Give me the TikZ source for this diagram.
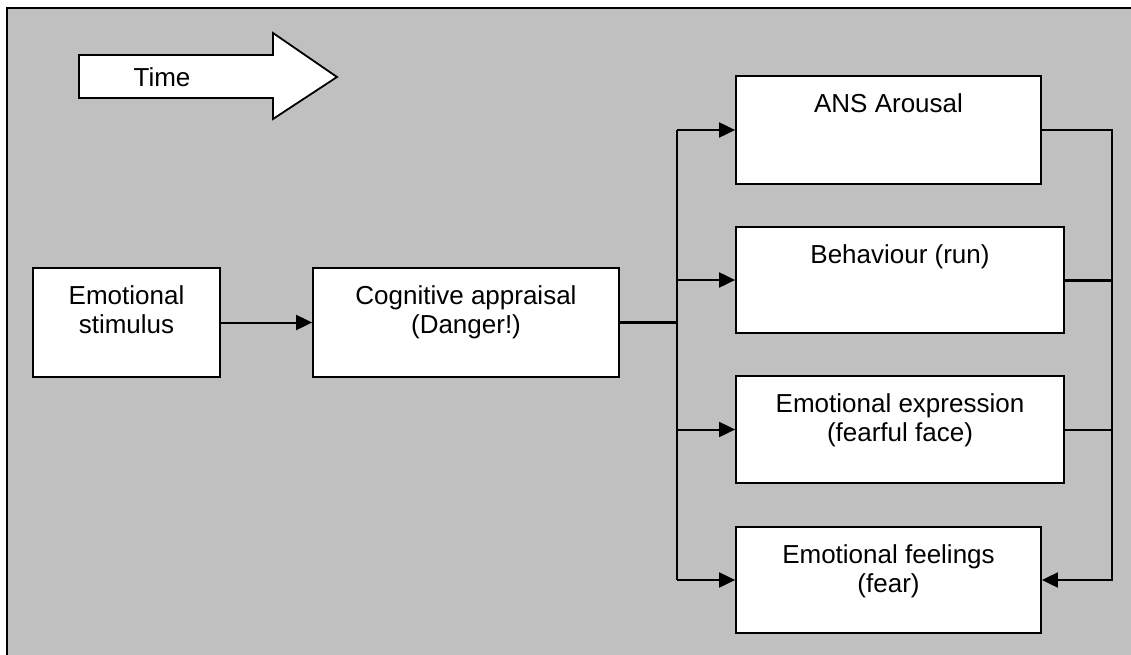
\documentclass[tikz,border=0pt]{standalone}
\usepackage{fontspec}
\setmainfont{Liberation Sans}
\usetikzlibrary{arrows.meta}
\definecolor{panel}{HTML}{C0C0C0}
\begin{document}
\begin{tikzpicture}[x=1pt,y=-1pt,
  font=\fontsize{26}{29.5}\selectfont,
  box/.style={draw, fill=white, line width=1.8pt, inner sep=0pt},
  txt/.style={align=center, inner sep=0pt, anchor=north},
  link/.style={line width=2pt},
  heavy/.style={line width=3pt},
  arr/.style={line width=2pt, -{Triangle[length=16pt,width=15pt]}}]
\useasboundingbox (0,0) rectangle (1131,655);
\fill[white] (0,0) rectangle (1131,655);
% grey panel
\draw[line width=2.2pt, fill=panel] (7,8) rectangle (1150,680);

% time arrow
\draw[fill=white, line width=1.8pt] (79,55) -- (273,55) -- (273,33) -- (337,77)
  -- (273,119) -- (273,98) -- (79,98) -- cycle;
\node[inner sep=0pt] (time) at (162,77) {Time};

% boxes
\node[box, minimum width=187pt, minimum height=109pt] (stim) at (126.5,322.5) {};
\node[box, minimum width=306pt, minimum height=109pt] (cog)  at (466,322.5) {};
\node[box, minimum width=305pt, minimum height=108pt] (ans)  at (888.5,130) {};
\node[box, minimum width=328pt, minimum height=106pt] (beh)  at (900,280) {};
\node[box, minimum width=328pt, minimum height=107pt] (expr) at (900,429.5) {};
\node[box, minimum width=305pt, minimum height=106pt] (feel) at (888.5,580) {};

% box texts
\node[txt] (stimT) at ([yshift=-18pt]stim.north) {Emotional\\stimulus};
\node[txt] (cogT)  at ([yshift=-18pt]cog.north)  {Cognitive appraisal\\(Danger!)};
\node[txt] (ansT)  at ([yshift=-18pt]ans.north)  {ANS Arousal};
\node[txt] (behT)  at ([yshift=-18pt]beh.north)  {Behaviour (run)};
\node[txt] (exprT) at ([yshift=-18pt]expr.north) {Emotional expression\\(fearful face)};
\node[txt] (feelT) at ([yshift=-18pt]feel.north) {Emotional feelings\\(fear)};

% bus positions
\coordinate (lbus) at (677,0);
\coordinate (rbus) at (1112,0);

% connectors
\draw[arr] (stim.east) -- (cog.west);
\draw[heavy] (cog.east) -- (cog.east -| lbus);
\draw[link] (lbus |- ans.west) -- (lbus |- feel.west);
\draw[arr] (lbus |- ans.west) -- (ans.west);
\draw[arr] (lbus |- beh.west) -- (beh.west);
\draw[arr] (lbus |- expr.west) -- (expr.west);
\draw[arr] (lbus |- feel.west) -- (feel.west);

\draw[arr] (ans.east) -- (rbus |- ans.east) -- (rbus |- feel.east) -- (feel.east);
\draw[heavy] (beh.east) -- (rbus |- beh.east);
\draw[link] (expr.east) -- (rbus |- expr.east);
\end{tikzpicture}
\end{document}
